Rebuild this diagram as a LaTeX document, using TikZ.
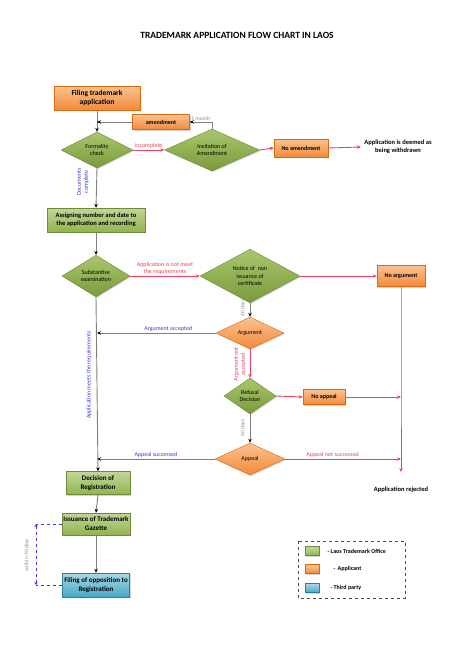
\documentclass[tikz,border=0pt]{standalone}
\usepackage{fontspec}
\setmainfont{Carlito}
\usetikzlibrary{shapes.geometric,arrows.meta,shadows}
\definecolor{gtop}{HTML}{C2D69A}
\definecolor{gbot}{HTML}{92B44E}
\definecolor{gborder}{HTML}{6E8A3A}
\definecolor{dgtop}{HTML}{A9C66C}
\definecolor{dgbot}{HTML}{7A9B3C}
\definecolor{otop}{HTML}{FBC28F}
\definecolor{obot}{HTML}{F28A3C}
\definecolor{oborder}{HTML}{D9680E}
\definecolor{btop}{HTML}{A8D8E6}
\definecolor{bbot}{HTML}{45A8C4}
\definecolor{bborder}{HTML}{2E7F97}
\definecolor{myred}{HTML}{F0405A}
\definecolor{myblue}{HTML}{3A3AE0}
\definecolor{linegrey}{HTML}{7F7F7F}
\definecolor{lblgrey}{HTML}{8C8C8C}
\begin{document}
\begin{tikzpicture}[x=1pt,y=-1pt,
  shad/.style={drop shadow={shadow xshift=1pt,shadow yshift=-1pt,opacity=0.35}},
  gbox/.style={rectangle,draw=gborder,top color=gtop,bottom color=gbot,align=center,inner sep=1pt,shad,font=\bfseries\fontsize{6.5}{8}\selectfont},
  obox/.style={rectangle,draw=oborder,top color=otop,bottom color=obot,align=center,inner sep=1pt,shad,font=\bfseries\fontsize{6}{7}\selectfont},
  bbox/.style={rectangle,draw=bborder,top color=btop,bottom color=bbot,align=center,inner sep=1pt,shad,font=\bfseries\fontsize{6.5}{8}\selectfont},
  gdia/.style={diamond,draw=gborder,top color=dgtop,bottom color=dgbot,align=center,inner sep=0pt,shad,font=\fontsize{6}{7.5}\selectfont},
  odia/.style={diamond,draw=oborder,top color=otop,bottom color=obot,align=center,inner sep=0pt,shad,font=\fontsize{6}{7.5}\selectfont},
  garrow/.style={draw=linegrey,line width=0.9pt,-{Stealth[length=4pt,width=3.5pt,color=black]}},
  rarrow/.style={draw=myred,line width=0.9pt,-{Stealth[length=4pt,width=3.5pt]}},
  rline/.style={draw=myred,line width=0.9pt},
  lblr/.style={font=\fontsize{6}{7}\selectfont,text=myred,align=center,inner sep=1pt},
  lblb/.style={font=\fontsize{6}{7}\selectfont,text=myblue,align=center,inner sep=1pt},
  lblg/.style={font=\fontsize{5.5}{6.5}\selectfont,text=lblgrey,align=center,inner sep=1pt},
  plain/.style={font=\bfseries\fontsize{6.5}{8}\selectfont,align=center}
]
\useasboundingbox (0,0) rectangle (474,670);

% title
\node[font=\bfseries\fontsize{9.5}{11}\selectfont] (title) at (237,35) {TRADEMARK APPLICATION FLOW CHART IN LAOS};

% nodes
\node[obox,minimum width=86,minimum height=24,font=\bfseries\fontsize{7.5}{9}\selectfont] (filing) at (97,98) {Filing trademark\\application};
\node[obox,minimum width=57,minimum height=15] (amend) at (161,122) {amendment};
\node[gdia,minimum width=72,minimum height=36] (formal) at (97,150) {Formality\\check};
\node[gdia,minimum width=95,minimum height=40] (invit) at (212,150) {Invitation of\\Amendment};
\node[obox,minimum width=54,minimum height=18] (noamend) at (301,148) {No amendment};
\node[plain] (withdrawn) at (398,147) {Application is deemed as\\being withdrawn};
\node[gbox,minimum width=98,minimum height=24] (assign) at (96,220) {Assigning number and date to\\the application and recording};
\node[gdia,minimum width=68,minimum height=36] (subst) at (96,276) {Substantive\\examination};
\node[gdia,minimum width=100,minimum height=46] (notice) at (250,276) {Notice of~ non\\issuance of\\certificate};
\node[obox,minimum width=48,minimum height=21] (noarg) at (401,276) {No argument};
\node[odia,minimum width=68,minimum height=32] (argument) at (250,333) {Argument};
\node[gdia,minimum width=52,minimum height=36] (refusal) at (250,396) {Refusal\\Decision};
\node[obox,minimum width=42,minimum height=15] (noappeal) at (324,397) {No appeal};
\node[odia,minimum width=70,minimum height=32] (appeal) at (250,459) {Appeal};
\node[plain] (rejected) at (401,490) {Application rejected};
\node[gbox,minimum width=64,minimum height=23,font=\bfseries\fontsize{7}{9}\selectfont] (decision) at (98,483) {Decision of\\Registration};
\node[gbox,minimum width=68,minimum height=22,font=\bfseries\fontsize{7}{9}\selectfont] (issuance) at (96,524) {Issuance of Trademark\\Gazette};
\node[bbox,minimum width=67,minimum height=24,font=\bfseries\fontsize{7}{9}\selectfont] (oppos) at (96,585) {Filing of opposition to\\Registration};

% junction coordinates
\coordinate (jA) at (97,122);
\coordinate (jArg) at (97,333);
\coordinate (jApp) at (97,459);
\coordinate (jNA) at (401,397);
\coordinate (jANS) at (401,459);
\coordinate (rejEnd) at (401,472);
\coordinate (dTop) at (36,524);
\coordinate (dBot) at (36,585);

% connectors
\draw[garrow] (filing.south) -- (formal.north);
\draw[garrow] (amend.west) -- (jA);
\draw[garrow] (invit.north) |- node[lblg,above,pos=0.75]{1 month} (amend.east);
\draw[rarrow] (formal.east) -- node[lblr,above]{incomplete} (invit.west);
\draw[rarrow] (invit.east) -- (noamend.west);
\draw[rarrow] (noamend.east) -- (withdrawn.west);
\draw[garrow] (formal.south) -- (assign.north);
\draw[garrow] (assign.south) -- (subst.north);
\draw[rarrow] (subst.east) -- node[lblr,above]{Application is not meet\\the requirements} (notice.west);
\draw[rarrow] (notice.east) -- (noarg.west);
\draw[rline] (noarg.south) -- (jNA) -- (jANS);
\draw[rarrow] (jANS) -- (rejEnd);
\draw[garrow] (notice.south) -- (argument.north);
\draw[garrow] (argument.west) -- node[lblb,above,pos=0.4]{Argument accepted} (jArg);
\draw[rarrow] (argument.south) -- (refusal.north);
\draw[rarrow] (refusal.east) -- (noappeal.west);
\draw[rarrow] (noappeal.east) -- (jNA);
\draw[garrow] (refusal.south) -- (appeal.north);
\draw[rarrow] (appeal.east) -- node[lblr,above,pos=0.41]{Appeal not successed} (jANS);
\draw[garrow] (appeal.west) -- node[lblb,above]{Appeal successed} (jApp);
\draw[garrow] (subst.south) -- (decision.north);
\draw[garrow] (decision.south) -- (issuance.north);
\draw[garrow] (issuance.south) -- (oppos.north);
\draw[draw=myblue,dashed,line width=0.6pt] (issuance.west) -- (dTop);
\draw[draw=myblue,dashed,line width=0.6pt] (oppos.west) -- (dBot);
\draw[draw=myblue,dashed,line width=0.6pt,{Stealth[length=3pt,width=3pt]}-{Stealth[length=3pt,width=3pt]}] (dTop) -- (dBot);

% rotated labels
\node[lblb,rotate=90] (lDoc) at (83,182) {Documents\\complete};
\node[lblg,rotate=90] (l60a) at (243,308) {60 days};
\node[lblr,rotate=90] (lArgNot) at (240,364) {Argument not\\accepted};
\node[lblg,rotate=90] (l60b) at (243,428) {60 days};
\node[lblb,rotate=90] (lMeets) at (89,375) {Application meets the requirements};
\node[lblg,rotate=90] (l90) at (27,555) {within 90 days};

% legend
\draw[dashed,draw=black!70,line width=0.6pt] (298,541) rectangle (405,598);
\node[gbox,minimum width=14,minimum height=9,inner sep=0pt] (lg1) at (312,551) {};
\node[obox,minimum width=14,minimum height=9,inner sep=0pt] (lg2) at (312,569) {};
\node[bbox,minimum width=14,minimum height=9,inner sep=0pt] (lg3) at (312,588) {};
\node[plain,anchor=west,font=\bfseries\fontsize{6}{7}\selectfont] (lt1) at (324,551) {- Laos Trademark Office};
\node[plain,anchor=west,font=\bfseries\fontsize{6}{7}\selectfont] (lt2) at (330,569) {- \,Applicant};
\node[plain,anchor=west,font=\bfseries\fontsize{6}{7}\selectfont] (lt3) at (327,588) {- Third party};
\end{tikzpicture}
\end{document}
